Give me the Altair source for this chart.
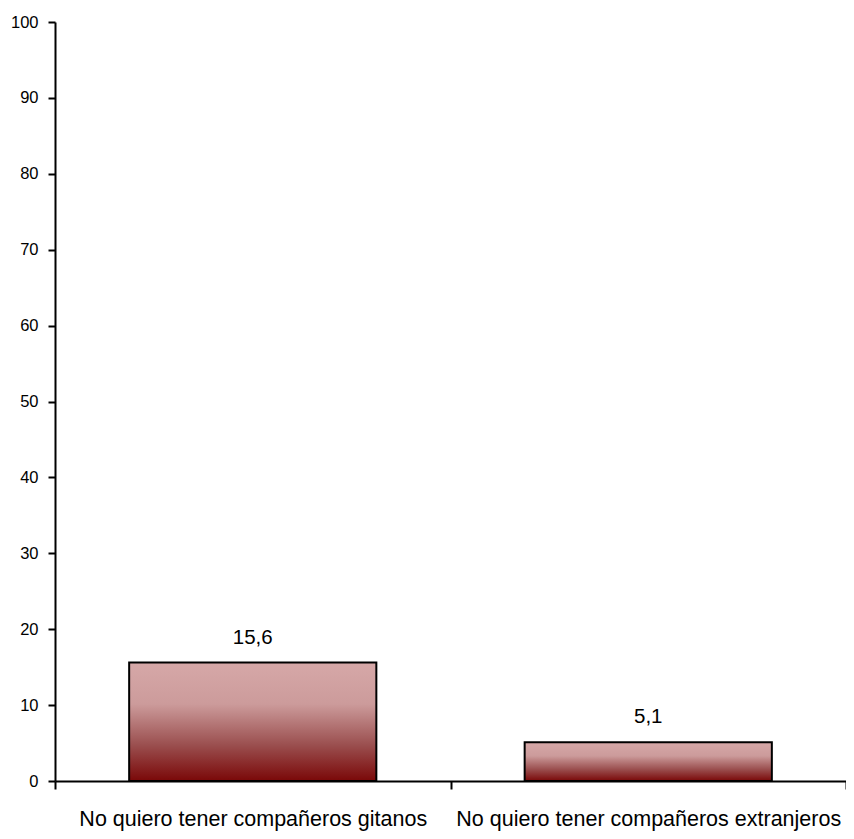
import altair as alt
import pandas as pd

categories = ["No quiero tener compañeros gitanos", "No quiero tener compañeros extranjeros"]
values = [15.6, 5.1]
labels = ["15,6", "5,1"]

df = pd.DataFrame({"cat": categories, "val": values, "lab": labels})

FONT = "Liberation Sans"

grad = alt.Gradient(
    gradient="linear",
    x1=0, y1=0, x2=0, y2=1,
    stops=[
        alt.GradientStop(color="#d6a8a8", offset=0),
        alt.GradientStop(color="#cc9b9b", offset=0.35),
        alt.GradientStop(color="#9a4e4e", offset=0.7),
        alt.GradientStop(color="#7a0808", offset=1),
    ],
)

x = alt.X(
    "cat:N",
    sort=categories,
    scale=alt.Scale(paddingInner=0, paddingOuter=0),
    axis=alt.Axis(
        title=None, labelAngle=0, labelFont=FONT, labelFontSize=21.5, labelColor="black",
        labelPadding=19, domainColor="black", domainWidth=2, tickColor="black",
        tickWidth=2, tickSize=8, tickBand="extent", labelLimit=0, grid=False,
    ),
)
y = alt.Y(
    "val:Q",
    scale=alt.Scale(domain=[0, 100]),
    axis=alt.Axis(
        title=None, values=list(range(0, 101, 10)), grid=False, labelFont=FONT,
        labelFontSize=16.5, labelColor="black", labelPadding=10, domainColor="black",
        domainWidth=2, tickColor="black", tickWidth=2, tickSize=7,
    ),
)

bars = alt.Chart(df).mark_bar(
    color=grad, stroke="black", strokeWidth=2, width=alt.RelativeBandSize(0.625)
).encode(x=x, y=y)
text = alt.Chart(df).mark_text(
    baseline="alphabetic", dy=-19, font=FONT, fontSize=20.5, color="black"
).encode(x=alt.X("cat:N", sort=categories), y="val:Q", text="lab:N")

chart = (
    alt.layer(bars, text)
    .properties(width=791, height=759, padding={"left": 47, "top": 14, "right": 0, "bottom": 50},
                autosize=alt.AutoSizeParams(type="none"), background="white")
    .configure_view(strokeWidth=0, stroke=None)
    .configure_axis(grid=False)
)
chart.save("out.html", embed_options={"renderer": "svg", "actions": False})
